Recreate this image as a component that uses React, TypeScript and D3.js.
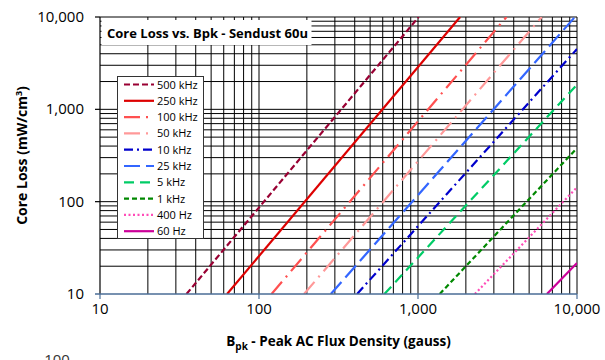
import React, { useRef, useEffect } from 'react';
import * as d3 from 'd3';

// series in legend order
const seriesNames = ["500 kHz", "250 kHz", "100 kHz", "50 kHz", "10 kHz", "25 kHz", "5 kHz", "1 kHz", "400 Hz", "60 Hz"];
// each line is straight on log-log axes: start point and end point
const startB = [35, 63, 120, 192, 414, 283, 615, 1370, 2280, 6470];
const startLoss = [10, 10, 10, 10, 10, 10, 10, 10, 10, 10];
const endB = [1010, 1840, 3600, 6000, 10000, 9700, 10000, 10000, 10000, 10000];
const endLoss = [10000, 10000, 10000, 10000, 4500, 10000, 1850, 380, 143, 21.7];

const colors = ["#990033", "#dd0000", "#ff5050", "#ff9999", "#0000cc", "#3366ff", "#00cc66", "#008800", "#ff4db8", "#cc0099"];
const dashes = ["6,3", null, "16,6,2,6", "16,6,2,6", "9,4,2,4", "16,6", "10,6", "5,3", "2,2.5", null];

const xTicks = [10, 100, 1000, 10000];
const yTicks = [10, 100, 1000, 10000];

const App = () => {
    const svgRef = useRef<SVGSVGElement>(null);

    useEffect(() => {
        const svg = d3.select(svgRef.current);
        svg.selectAll("*").remove();

        const left = 100, right = 577, top = 17, bottom = 294;
        const font = "'Open Sans', sans-serif";

        const x = d3.scaleLog().domain([10, 10000]).range([left, right]);
        const y = d3.scaleLog().domain([10, 10000]).range([bottom, top]);

        // minor + major grid (1..9 per decade)
        const gridVals: number[] = [];
        for (let d = 10; d <= 10000; d *= 10) {
            for (let m = 1; m <= 9; m++) {
                const v = d * m;
                if (v <= 10000) gridVals.push(v);
            }
        }

        const grid = svg.append("g");
        grid.selectAll("line.v")
            .data(gridVals.filter(v => v > 10))
            .enter()
            .append("line")
            .attr("x1", d => x(d))
            .attr("x2", d => x(d))
            .attr("y1", top)
            .attr("y2", bottom)
            .attr("stroke", "#000")
            .attr("stroke-width", 1);
        grid.selectAll("line.h")
            .data(gridVals.filter(v => v > 10))
            .enter()
            .append("line")
            .attr("x1", left)
            .attr("x2", right)
            .attr("y1", d => y(d))
            .attr("y2", d => y(d))
            .attr("stroke", "#000")
            .attr("stroke-width", 1);

        // clip for data lines
        svg.append("defs").append("clipPath").attr("id", "plotclip")
            .append("rect")
            .attr("x", left).attr("y", top)
            .attr("width", right - left).attr("height", bottom - top);

        const line = d3.line<[number, number]>()
            .x(d => x(d[0]))
            .y(d => y(d[1]));

        const lines = svg.append("g").attr("clip-path", "url(#plotclip)");
        seriesNames.forEach((name, i) => {
            const pts: [number, number][] = [[startB[i], startLoss[i]], [endB[i], endLoss[i]]];
            lines.append("path")
                .attr("d", line(pts))
                .attr("fill", "none")
                .attr("stroke", colors[i])
                .attr("stroke-width", 2.2)
                .attr("stroke-dasharray", dashes[i])
                .attr("stroke-linecap", "butt");
        });

        // axes
        svg.append("line")
            .attr("x1", left).attr("x2", left)
            .attr("y1", top).attr("y2", bottom)
            .attr("stroke", "#000").attr("stroke-width", 1.2);
        svg.append("line")
            .attr("x1", left - 5).attr("x2", right)
            .attr("y1", bottom).attr("y2", bottom)
            .attr("stroke", "#4a6d96").attr("stroke-width", 1.5);

        svg.selectAll("line.ytick")
            .data(yTicks.filter(v => v > 10))
            .enter()
            .append("line")
            .attr("x1", left - 5).attr("x2", left)
            .attr("y1", d => y(d)).attr("y2", d => y(d))
            .attr("stroke", "#000").attr("stroke-width", 1.2);
        svg.selectAll("line.xtick")
            .data(xTicks)
            .enter()
            .append("line")
            .attr("x1", d => x(d)).attr("x2", d => x(d))
            .attr("y1", bottom).attr("y2", bottom + 5)
            .attr("stroke", "#4a6d96").attr("stroke-width", 1.2);

        const fmt = d3.format(",");
        svg.selectAll("text.ylab")
            .data(yTicks)
            .enter()
            .append("text")
            .attr("x", left - 16)
            .attr("y", d => y(d) + 5)
            .attr("text-anchor", "end")
            .style("font-family", font)
            .style("font-size", "15px")
            .style("fill", "#000")
            .text(d => fmt(d));
        svg.selectAll("text.xlab")
            .data(xTicks)
            .enter()
            .append("text")
            .attr("x", d => x(d))
            .attr("y", bottom + 20)
            .attr("text-anchor", "middle")
            .style("font-family", font)
            .style("font-size", "15px")
            .style("fill", "#000")
            .text(d => fmt(d));

        // axis titles
        const yt = svg.append("text")
            .attr("transform", `translate(27,${(top + bottom) / 2}) rotate(-90)`)
            .attr("text-anchor", "middle")
            .style("font-family", font)
            .style("font-size", "14px")
            .style("font-weight", "bold")
            .style("fill", "#000");
        yt.append("tspan").text("Core Loss (mW/cm");
        yt.append("tspan").text("3").attr("dy", -5).style("font-size", "9px");
        yt.append("tspan").text(")").attr("dy", 5);

        const xt = svg.append("text")
            .attr("x", (left + right) / 2)
            .attr("y", 346)
            .attr("text-anchor", "middle")
            .style("font-family", font)
            .style("font-size", "13.5px")
            .style("font-weight", "bold")
            .style("fill", "#000");
        xt.append("tspan").text("B");
        xt.append("tspan").text("pk").attr("dy", 4).style("font-size", "10px");
        xt.append("tspan").text(" - Peak AC Flux Density (gauss)").attr("dy", -4);

        // stray label cut at the bottom edge, as in the source
        svg.append("text")
            .attr("x", 57).attr("y", 365)
            .attr("text-anchor", "middle")
            .style("font-family", font)
            .style("font-size", "15px")
            .style("fill", "#333")
            .text("100");

        // chart title box
        svg.append("rect")
            .attr("x", left + 1.5).attr("y", 20)
            .attr("width", 210).attr("height", 25)
            .attr("fill", "#fff");
        svg.append("text")
            .attr("x", left + 7)
            .attr("y", 38)
            .style("font-family", font)
            .style("font-size", "13px")
            .style("font-weight", "bold")
            .style("fill", "#000")
            .text("Core Loss vs. Bpk - Sendust 60u");

        // legend
        const lg = svg.append("g");
        lg.append("rect")
            .attr("x", 117.5).attr("y", 76.5)
            .attr("width", 86).attr("height", 162)
            .attr("fill", "#fff")
            .attr("stroke", "#333")
            .attr("stroke-width", 1);
        seriesNames.forEach((name, i) => {
            const ly = 84.5 + i * 16.3;
            lg.append("line")
                .attr("x1", 124).attr("x2", 154)
                .attr("y1", ly).attr("y2", ly)
                .attr("stroke", colors[i])
                .attr("stroke-width", 2.2)
                .attr("stroke-dasharray", dashes[i]);
            lg.append("text")
                .attr("x", 157)
                .attr("y", ly + 4)
                .style("font-family", font)
                .style("font-size", "11px")
                .style("fill", "#000")
                .text(name);
        });
    }, []);

    return (
        <svg ref={svgRef} width={605} height={360}
            style={{ position: "absolute", left: 0, top: 0, background: "#fff" }}></svg>
    );
};

export default App;
